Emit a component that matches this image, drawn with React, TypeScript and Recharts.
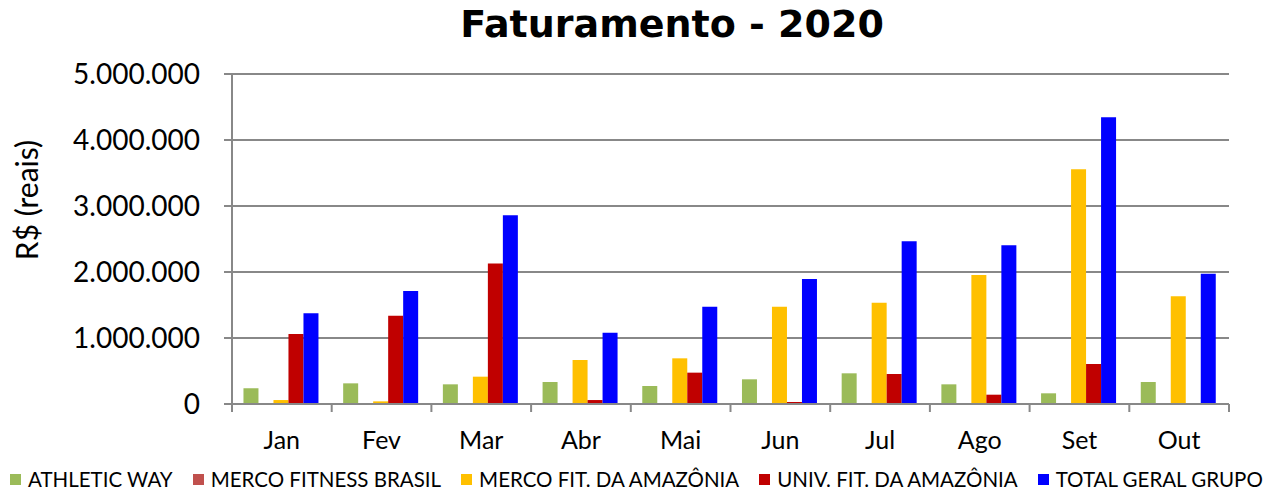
import { BarChart, Bar, XAxis, YAxis, CartesianGrid } from 'recharts';

const months = ['Jan', 'Fev', 'Mar', 'Abr', 'Mai', 'Jun', 'Jul', 'Ago', 'Set', 'Out'];

const athleticWay = [240000, 313000, 298000, 333000, 273000, 374000, 465000, 298000, 162000, 333000];
const mercoFitnessBrasil = [0, 0, 0, 0, 0, 0, 0, 0, 0, 0];
const mercoFitAmazonia = [60000, 40000, 414000, 667000, 692000, 1475000, 1535000, 1955000, 3556000, 1631000];
const univFitAmazonia = [1060000, 1338000, 2130000, 60000, 475000, 30000, 455000, 141000, 606000, 0];
const totalGeralGrupo = [1374000, 1712000, 2859000, 1080000, 1475000, 1894000, 2465000, 2404000, 4343000, 1975000];

const yTicks = [0, 1000000, 2000000, 3000000, 4000000, 5000000];

const series = [
  { key: 'athletic', name: 'ATHLETIC WAY', color: '#9BBB59', values: athleticWay },
  { key: 'mercoBr', name: 'MERCO FITNESS BRASIL', color: '#C0504D', values: mercoFitnessBrasil },
  { key: 'mercoAm', name: 'MERCO FIT. DA AMAZÔNIA', color: '#FFC000', values: mercoFitAmazonia },
  { key: 'univ', name: 'UNIV. FIT. DA AMAZÔNIA', color: '#C00000', values: univFitAmazonia },
  { key: 'total', name: 'TOTAL GERAL GRUPO', color: '#0000FF', values: totalGeralGrupo },
];

const data = months.map((m, i) => {
  const row: Record<string, string | number> = { month: m };
  series.forEach((s) => {
    row[s.key] = s.values[i];
  });
  return row;
});

const FONT = 'Lato, "Open Sans", sans-serif';
const GRID = '#888888';

const fmt = (v: number) => String(v).replace(/\B(?=(\d{3})+(?!\d))/g, '.');

// month label centred, boundary tick marks between categories
const MonthTick = (props: any) => {
  const { x, y, payload, index } = props;
  const half = payload?.offset ?? 0;
  const last = index === months.length - 1;
  return (
    <g>
      <line x1={x - half} y1={y} x2={x - half} y2={y + 8} stroke={GRID} strokeWidth={2} />
      {last && <line x1={x + half} y1={y} x2={x + half} y2={y + 8} stroke={GRID} strokeWidth={2} />}
      <text x={x} y={y + 45} textAnchor="middle" fill="#000" fontSize={25} fontFamily={FONT}>
        {payload.value}
      </text>
    </g>
  );
};

// y title sits a bit above the plot centre, like the original
const YTitle = (props: any) => {
  const { viewBox } = props;
  const cx = viewBox.x + 38;
  const cy = viewBox.y + viewBox.height / 2 - 39;
  return (
    <text
      x={cx}
      y={cy}
      transform={`rotate(-90 ${cx} ${cy})`}
      textAnchor="middle"
      fill="#000"
      fontSize={30}
      fontFamily={FONT}
    >
      R$ (reais)
    </text>
  );
};

export default function App() {
  return (
    <div style={{ position: 'absolute', left: 0, top: 0, width: 1276, height: 489, background: '#fff' }}>
      <div
        style={{
          position: 'absolute',
          left: 0,
          top: 2,
          width: 1344,
          textAlign: 'center',
          fontFamily: '"DejaVu Sans", sans-serif',
          fontWeight: 700,
          fontSize: 38,
          color: '#000',
          lineHeight: '44px',
        }}
      >
        Faturamento - 2020
      </div>
      <BarChart
        width={1276}
        height={489}
        data={data}
        margin={{ top: 74, right: 47, bottom: 25, left: 0 }}
        barCategoryGap="11.5%"
        barGap={0}
      >
        <CartesianGrid vertical={false} stroke={GRID} strokeWidth={2} />
        <XAxis
          dataKey="month"
          height={60}
          axisLine={{ stroke: GRID, strokeWidth: 2 }}
          tickLine={false}
          tickSize={0}
          tickMargin={0}
          interval={0}
          tick={<MonthTick />}
        />
        <YAxis
          width={232}
          domain={[0, 5000000]}
          ticks={yTicks}
          tickFormatter={fmt}
          axisLine={{ stroke: GRID, strokeWidth: 2 }}
          tickLine={{ stroke: GRID, strokeWidth: 2 }}
          tickSize={8}
          tickMargin={24}
          tick={{ fill: '#000', fontSize: 28, fontFamily: FONT }}
          label={<YTitle />}
        />
        {series.map((s) => (
          <Bar key={s.key} dataKey={s.key} name={s.name} fill={s.color} isAnimationActive={false} />
        ))}
      </BarChart>
      <div
        style={{
          position: 'absolute',
          left: 10,
          top: 468,
          display: 'flex',
          alignItems: 'center',
          fontFamily: FONT,
          fontSize: 20.5,
          color: '#000',
          whiteSpace: 'nowrap',
          lineHeight: '22px',
        }}
      >
        {series.map((s) => (
          <span key={s.key} style={{ display: 'flex', alignItems: 'center', marginRight: 20 }}>
            <span style={{ width: 11, height: 11, background: s.color, marginRight: 7, display: 'inline-block' }} />
            {s.name}
          </span>
        ))}
      </div>
    </div>
  );
}
